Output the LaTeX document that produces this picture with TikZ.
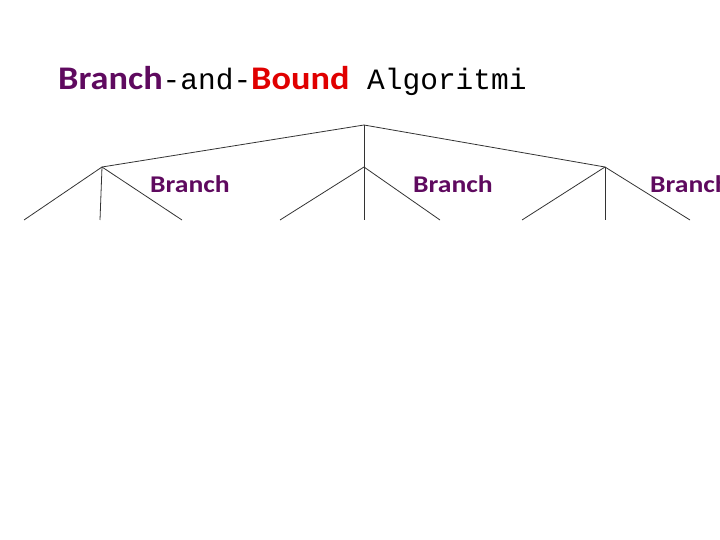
\documentclass[tikz,border=0pt]{standalone}
\usepackage{fontspec}
\setmainfont{Carlito}
\newfontfamily\monofont{Liberation Mono}
\newfontfamily\titlebold[FakeStretch=1.1]{Carlito Bold}
\newfontfamily\labelbold[FakeStretch=1.15]{Carlito Bold}
\definecolor{branchpurple}{RGB}{95,10,95}
\definecolor{boundred}{RGB}{224,0,0}

\begin{document}
\begin{tikzpicture}[
    x=1pt,y=-1pt,
    edge/.style={draw=black!80,line width=0.8pt},
    brlabel/.style={anchor=base west,inner sep=0pt,text=branchpurple,
        font=\labelbold\fontsize{24}{24}\selectfont}]
    \useasboundingbox (0,0) rectangle (720,540);
    \clip (0,0) rectangle (720,540);

    % title
    \node[anchor=base west,inner sep=0pt,font=\fontsize{33}{33}\selectfont] (title) at (58,90)
        {{\color{branchpurple}\titlebold Branch}{\monofont\fontsize{29.5}{30}\selectfont -and-}%
         {\color{boundred}\titlebold Bound}{\monofont\fontsize{29.5}{30}\selectfont\ Algoritmi}};

    % tree
    \coordinate (root) at (364,125);
    \foreach \name/\cx/\la/\lb/\lc in {left/102/24/100/182, mid/364/280/364/440, right/605/522/605/690} {
        \coordinate (\name) at (\cx,167);
        \draw[edge] (root) -- (\name);
        \coordinate (\name-a) at (\la,220);
        \coordinate (\name-b) at (\lb,220);
        \coordinate (\name-c) at (\lc,220);
        \draw[edge] (\name) -- (\name-a);
        \draw[edge] (\name) -- (\name-b);
        \draw[edge] (\name) -- (\name-c);
    }

    % labels
    \node[brlabel] (br-left) at (150,193) {Branch};
    \node[brlabel] (br-mid) at (413,193) {Branch};
    \node[brlabel] (br-right) at (650,193) {Branch};
\end{tikzpicture}
\end{document}
